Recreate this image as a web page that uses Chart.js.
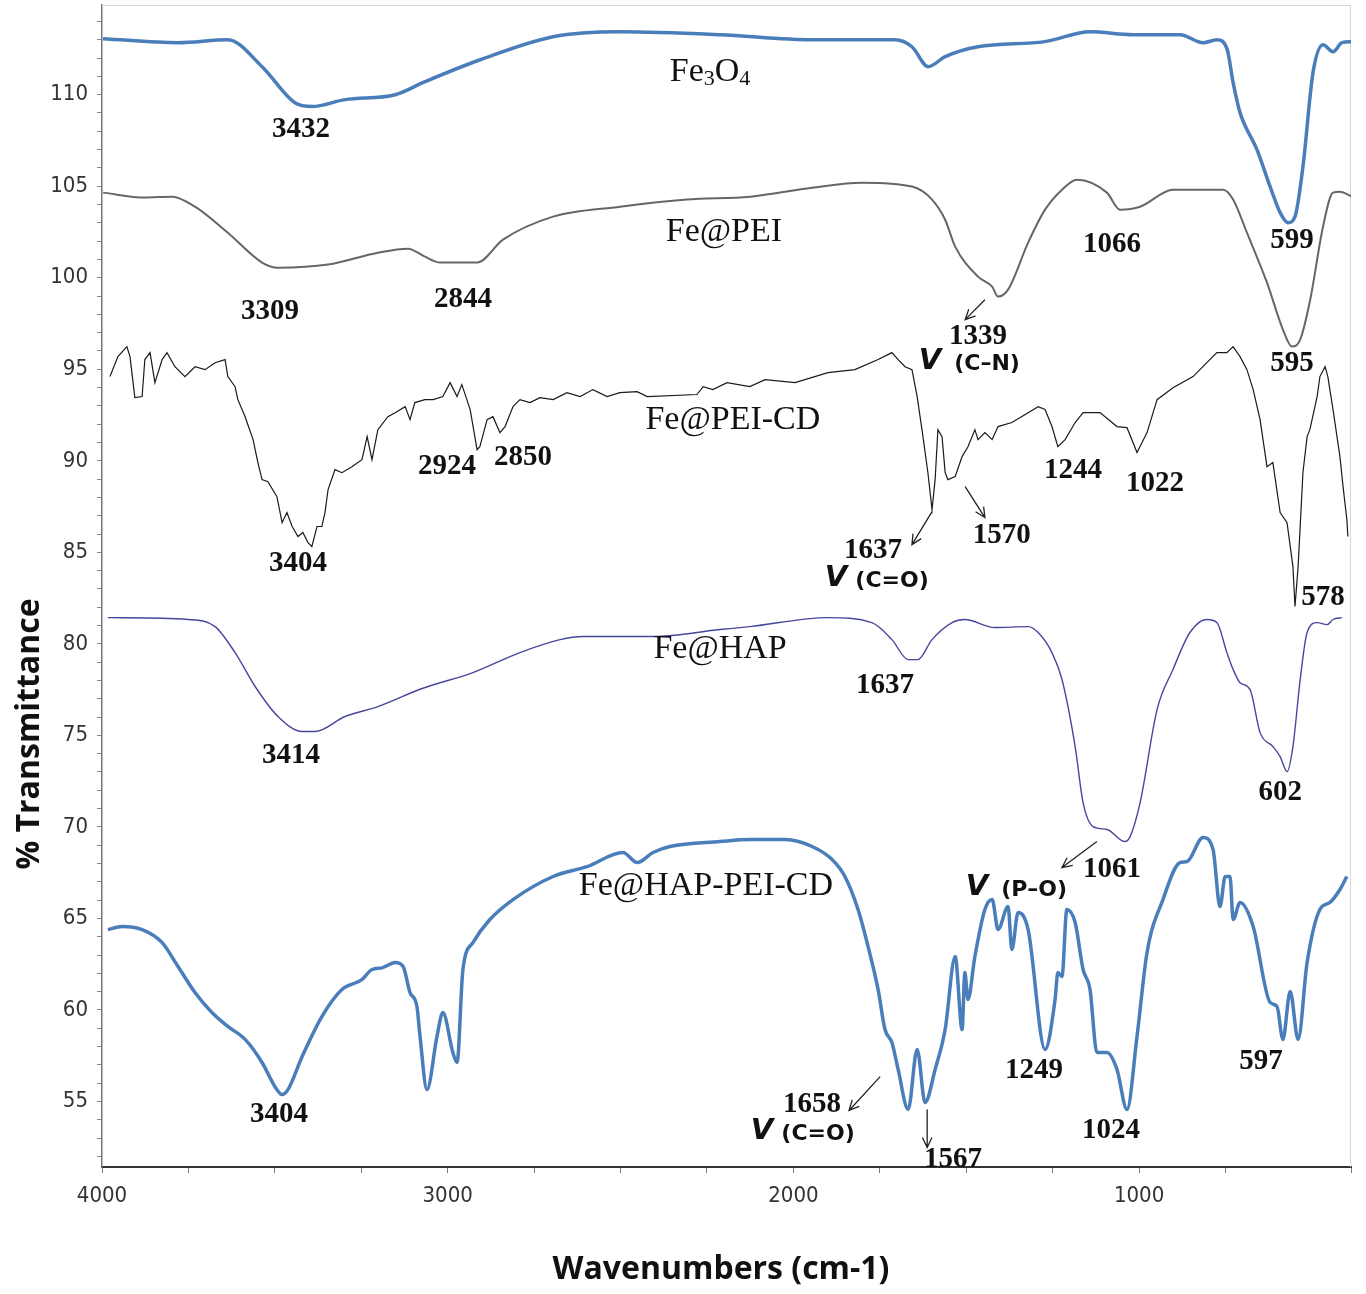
<!DOCTYPE html>
<html>
<head>
<meta charset="utf-8">
<script src="https://cdn.jsdelivr.net/npm/chart.js@4.4.1/dist/chart.umd.min.js"></script>
<style>
  html, body { margin: 0; padding: 0; background: #fff; }
  #contenedor { width: 1366px; height: 1294px; position: relative; }
</style>
</head>
<body>
<div id="contenedor"><canvas id="grafica-ftir"></canvas></div>
<script>
'use strict'

//Espectros FTIR: numero de onda (cm-1) y % transmitancia

//Fe3O4
const fe3o4_wn = [3997,3780,3636,3537,3442,3392,3297,3152,3066,2906,2695,2501,2212,1946,1706,1657,1610,1561,1466,1272,1142,1017,881,815,774,745,728,708,659,621,592,569,549,526,497,468,439,413,384];
const fe3o4_t = [113.06,112.84,113.0,111.53,109.56,109.35,109.73,110.0,110.71,111.91,113.17,113.44,113.28,113.0,113.0,112.62,111.53,112.08,112.62,112.9,113.44,113.28,113.28,112.84,113.0,112.46,110.66,109.02,107.0,104.98,103.56,103.01,103.34,106.07,111.2,112.73,112.35,112.84,112.9];

//Fe@PEI
const pei_wn = [3997,3876,3797,3731,3636,3537,3491,3346,3202,3115,3066,3022,2915,2840,2695,2501,2308,2125,1946,1801,1657,1599,1561,1532,1466,1425,1408,1379,1321,1272,1223,1180,1093,1055,997,902,757,728,688,630,584,558,534,505,468,439,419,384];
const pei_t = [104.65,104.38,104.43,103.88,102.46,100.83,100.55,100.72,101.37,101.59,101.15,100.83,100.83,102.08,103.34,103.88,104.27,104.43,104.92,105.19,104.98,104.27,103.17,101.7,100.06,99.51,98.97,99.35,101.92,103.72,104.81,105.36,104.65,103.72,103.88,104.81,104.81,104.27,102.46,99.73,97.17,96.24,96.62,98.8,102.79,104.65,104.7,104.43];

//Fe@PEI-CD
const peicd_wn = [3977,3954,3928,3919,3905,3884,3876,3861,3847,3826,3812,3789,3760,3731,3702,3673,3644,3636,3615,3607,
  3586,3563,3549,3537,3520,3494,3479,3465,3450,3433,3419,3404,3393,3378,3364,3355,3346,3326,3306,3277,
  3248,3233,3219,3202,3173,3152,3123,3109,3095,3066,3042,3014,2993,2973,2959,2935,2915,2907,2886,2869,
  2849,2834,2811,2791,2762,2733,2695,2655,2617,2580,2539,2502,2452,2423,2279,2261,2233,2192,2126,2082,
  1995,1900,1822,1755,1715,1697,1677,1657,1642,1628,1611,1599,1590,1582,1570,1561,1553,1532,1512,1495,
  1475,1466,1446,1425,1408,1368,1321,1292,1272,1252,1235,1214,1185,1162,1113,1064,1035,1006,977,948,
  902,844,804,775,746,728,708,688,670,650,630,613,592,572,555,549,540,526,514,506,
  485,477,462,454,439,419,410,399,396];
const peicd_t = [94.60,95.69,96.24,95.69,93.45,93.51,95.53,95.91,94.27,95.53,95.91,95.14,94.60,95.14,94.98,95.36,95.53,94.60,94.05,93.34,
  92.41,91.16,89.90,88.97,88.86,88.04,86.62,87.17,86.41,85.86,86.08,85.53,85.31,86.41,86.41,87.17,88.43,89.52,89.35,89.68,
  90.06,91.32,90.06,91.70,92.41,92.63,92.96,92.25,93.18,93.34,93.34,93.51,94.27,93.51,94.16,92.80,90.61,90.77,92.25,92.41,
  91.54,91.87,92.96,93.34,93.18,93.45,93.34,93.72,93.51,93.89,93.51,93.72,93.78,93.51,93.62,94.05,93.89,94.27,94.05,94.43,
  94.27,94.82,94.98,95.53,95.91,95.53,95.14,94.98,93.51,91.70,89.36,87.33,88.97,91.70,91.32,89.36,88.97,89.14,90.23,90.77,
  91.70,91.16,91.54,91.16,91.87,92.09,92.63,92.96,92.80,91.87,90.77,91.16,92.09,92.63,92.63,91.87,91.81,90.45,91.54,93.34,
  93.99,94.60,95.36,95.91,95.91,96.24,95.69,94.98,93.89,92.25,89.68,89.90,87.17,86.62,84.22,82.04,84.22,89.36,91.32,91.70,
  93.51,94.60,95.14,94.60,92.80,90.23,88.59,86.79,85.86];

//Fe@HAP
const hap_wn = [3983,3751,3673,3615,3557,3491,3421,3384,3297,3202,3074,2927,2791,2675,2609,2406,2212,2126,1900,1773,1715,1668,1640,1599,1541,1504,1417,1321,1292,1252,1223,1185,1162,1133,1093,1041,1026,997,948,902,853,804,775,746,728,708,679,650,613,592,572,555,534,514,485,456,439,413];
const hap_t = [81.43,81.33,80.94,79.52,77.67,76.03,75.21,75.21,76.03,76.57,77.56,78.43,79.52,80.23,80.40,80.40,80.78,80.94,81.43,81.16,80.23,79.14,79.14,80.23,81.16,81.33,80.89,80.94,80.62,79.52,78.05,74.39,71.33,70.02,69.86,69.20,69.47,71.33,76.41,78.60,80.62,81.33,81.16,79.52,78.60,77.88,77.50,75.15,74.39,73.84,73.02,74.39,78.05,80.62,81.16,81.05,81.33,81.43];

//Fe@HAP-PEI-CD
const hapcd_wn = [3983,3942,3884,3826,3780,3731,3682,3636,3586,3537,3500,3479,3462,3421,3364,3306,3248,3219,3190,3152,
  3129,3109,3089,3080,3060,3031,3014,2985,2973,2956,2927,2878,2811,2695,2597,2493,2452,2406,2357,2212,
  2126,2024,1946,1888,1851,1813,1784,1755,1735,1715,1697,1668,1642,1619,1590,1561,1532,1512,1504,1495,
  1475,1446,1425,1408,1379,1368,1350,1321,1272,1243,1235,1223,1209,1185,1162,1142,1122,1093,1064,1035,
  1006,977,931,882,861,815,786,766,751,737,728,708,670,621,601,584,563,540,514,477,
  448,419,399];
const hapcd_t = [64.39,64.56,64.39,63.68,62.37,60.95,59.86,59.10,58.39,57.13,55.82,55.38,55.65,57.46,59.64,61.12,61.66,62.21,62.30,62.59,
  62.37,60.95,60.19,58.55,55.65,58.55,59.86,57.67,57.13,62.21,63.68,64.94,66.03,67.29,67.83,68.60,68.05,68.60,68.93,69.20,
  69.31,69.31,68.93,68.22,67.29,65.49,63.47,61.12,58.93,58.22,56.75,54.56,57.84,54.94,56.75,58.93,62.92,58.93,62.04,60.57,
  62.92,65.49,66.03,64.39,65.65,63.30,65.32,64.39,57.84,60.57,62.04,61.83,65.49,64.78,62.21,61.12,57.67,57.67,56.75,54.56,
  58.55,63.14,66.03,68.05,68.11,69.42,68.76,65.65,67.29,67.29,64.94,65.87,64.56,60.41,60.19,58.39,61.01,58.39,62.59,65.49,
  65.87,66.58,67.29];

//Etiquetas de picos: [texto, numero de onda, transmitancia]
const etiquetas_picos = [
  ['3432',3424,108.09], ['3309',3514,98.15], ['2844',2956,98.80], ['1066',1078,101.81], ['599',558,102.03],
  ['1339',1466,96.78], ['595',558,95.31], ['2924',3002,89.68], ['2850',2782,90.17], ['3404',3433,84.38],
  ['1637',1770,85.09], ['1570',1397,85.91], ['1244',1191,89.46], ['1022',954,88.75], ['578',468,82.53],
  ['1637',1735,77.72], ['3414',3453,73.90], ['602',592,71.88], ['1061',1078,67.67], ['3404',3488,54.29],
  ['1658',1946,54.83], ['1567',1538,51.83], ['1249',1304,56.69], ['1024',1081,53.41], ['597',647,57.18]
];

//Nombres de las muestras
const nombres_muestras = [
  ['Fe@PEI',2201,102.52], ['Fe@PEI-CD',2175,92.25], ['Fe@HAP',2212,79.69], ['Fe@HAP-PEI-CD',2253,66.74]
];

//Vibraciones: [enlace, numero de onda de la V, numero de onda del enlace, transmitancia]
const vibraciones = [
  ['(C\u2013N)',1605,1431,95.30], ['(C=O)',1877,1706,83.45], ['(P\u2013O)',1469,1295,66.60], ['(C=O)',2091,1920,53.25]
];

//Flechas: [w inicio, T inicio, w fin, T fin]
const flechas = [
  [1446,98.80,1503,97.71], [1599,87.22,1657,85.42], [1503,88.59,1446,86.90],
  [1122,69.20,1223,67.78], [1749,56.36,1839,54.51], [1613,54.56,1613,52.49]
];

const x_ticks = [1000, 2000, 3000, 4000];

function puntos(wn, t) {
  return wn.map((w, i) => ({x: w, y: t[i]}));
}

const serif = "'Liberation Serif', 'Times New Roman', serif";
const sans = "'DejaVu Sans', Verdana, sans-serif";

const anotaciones = {
  id: 'anotaciones',
  beforeDatasetsDraw(chart) {
    const {ctx, chartArea: a} = chart;
    ctx.save();
    ctx.strokeStyle = '#d6d6d6';
    ctx.lineWidth = 1;
    ctx.beginPath();
    ctx.moveTo(a.left, a.top + 0.5);
    ctx.lineTo(a.right - 0.5, a.top + 0.5);
    ctx.lineTo(a.right - 0.5, a.bottom);
    ctx.stroke();
    ctx.restore();
  },
  afterDraw(chart) {
    const {ctx} = chart;
    const sx = chart.scales.x, sy = chart.scales.y;
    const px = w => sx.getPixelForValue(w);
    const py = t => sy.getPixelForValue(t);
    ctx.save();
    ctx.fillStyle = '#111';
    ctx.textAlign = 'center';
    ctx.textBaseline = 'middle';

    //Picos
    ctx.font = 'bold 29px ' + serif;
    etiquetas_picos.forEach(e => ctx.fillText(e[0], px(e[1]), py(e[2])));

    //Nombres
    ctx.font = '34px ' + serif;
    nombres_muestras.forEach(e => ctx.fillText(e[0], px(e[1]), py(e[2])));

    //Fe3O4 con subindices
    const cx = px(2241), cy = py(111.26);
    const partes = [['Fe', 34, 0], ['3', 22, 8], ['O', 34, 0], ['4', 22, 8]];
    let total = 0;
    partes.forEach(p => { ctx.font = p[1] + 'px ' + serif; total += ctx.measureText(p[0]).width; });
    let xi = cx - total / 2;
    ctx.textAlign = 'left';
    partes.forEach(p => {
      ctx.font = p[1] + 'px ' + serif;
      ctx.fillText(p[0], xi, cy + p[2]);
      xi += ctx.measureText(p[0]).width;
    });
    ctx.textAlign = 'center';

    //Vibraciones
    vibraciones.forEach(v => {
      ctx.font = 'italic bold 29px ' + sans;
      ctx.fillText('V', px(v[1]), py(v[3]) - 2);
      ctx.font = 'bold 22px ' + sans;
      ctx.fillText(v[0], px(v[2]) - 3, py(v[3]) + 1);
    });

    //Flechas
    ctx.strokeStyle = '#222';
    ctx.lineWidth = 1.3;
    flechas.forEach(f => {
      const x1 = px(f[0]), y1 = py(f[1]), x2 = px(f[2]), y2 = py(f[3]);
      const ang = Math.atan2(y2 - y1, x2 - x1);
      ctx.beginPath();
      ctx.moveTo(x1, y1);
      ctx.lineTo(x2, y2);
      ctx.moveTo(x2 - 11 * Math.cos(ang - 0.45), y2 - 11 * Math.sin(ang - 0.45));
      ctx.lineTo(x2, y2);
      ctx.lineTo(x2 - 11 * Math.cos(ang + 0.45), y2 - 11 * Math.sin(ang + 0.45));
      ctx.stroke();
    });

    //Titulos de ejes
    ctx.font = "bold 32px 'Open Sans', sans-serif";
    ctx.fillText('Wavenumbers (cm-1)', 721, 1270);
    ctx.translate(30, 734);
    ctx.rotate(-Math.PI / 2);
    ctx.fillText('% Transmittance', 0, 0);
    ctx.restore();
  }
};

const fuenteTicks = {family: "'Liberation Sans Narrow', 'DejaVu Sans Condensed', sans-serif", size: 22};

const grafica = new Chart(document.getElementById('grafica-ftir').getContext('2d'), {
  type: 'line',
  data: {
    datasets: [
      {label: 'Fe3O4', data: puntos(fe3o4_wn, fe3o4_t), borderColor: '#4a7ebb', borderWidth: 3.5, cubicInterpolationMode: 'monotone'},
      {label: 'Fe@PEI', data: puntos(pei_wn, pei_t), borderColor: '#666666', borderWidth: 2, cubicInterpolationMode: 'monotone'},
      {label: 'Fe@PEI-CD', data: puntos(peicd_wn, peicd_t), borderColor: '#1a1a1a', borderWidth: 1.2, tension: 0},
      {label: 'Fe@HAP', data: puntos(hap_wn, hap_t), borderColor: '#47479c', borderWidth: 1.4, cubicInterpolationMode: 'monotone'},
      {label: 'Fe@HAP-PEI-CD', data: puntos(hapcd_wn, hapcd_t), borderColor: '#4a7ebb', borderWidth: 3.5, cubicInterpolationMode: 'monotone'}
    ]
  },
  options: {
    animation: false,
    responsive: true,
    maintainAspectRatio: false,
    parsing: false,
    elements: {point: {radius: 0}},
    layout: {padding: {top: 5, right: 15, left: 0, bottom: 0}},
    plugins: {legend: {display: false}, tooltip: {enabled: false}},
    scales: {
      x: {
        type: 'linear',
        reverse: true,
        min: 387,
        max: 4000,
        afterFit(scale) {
          scale.height = 127;
          scale.paddingLeft = 0;
          scale.paddingRight = 0;
        },
        border: {color: '#333', width: 2},
        grid: {drawOnChartArea: false, tickLength: 6, color: '#777'},
        ticks: {
          stepSize: 250,
          autoSkip: false,
          maxRotation: 0,
          padding: 10,
          color: '#333',
          font: fuenteTicks,
          callback: v => x_ticks.includes(v) ? String(v) : ''
        }
      },
      y: {
        type: 'linear',
        min: 51.42,
        max: 114.9,
        afterFit(scale) {
          scale.width = 102;
          scale.paddingTop = 0;
          scale.paddingBottom = 0;
        },
        border: {color: '#777', width: 1.5},
        grid: {drawOnChartArea: false, tickLength: 5, color: '#888'},
        ticks: {
          stepSize: 1,
          includeBounds: false,
          autoSkip: false,
          padding: 9,
          color: '#333',
          font: fuenteTicks,
          callback: v => v % 5 === 0 ? String(v) : ''
        }
      }
    }
  },
  plugins: [anotaciones]
});
</script>
</body>
</html>
